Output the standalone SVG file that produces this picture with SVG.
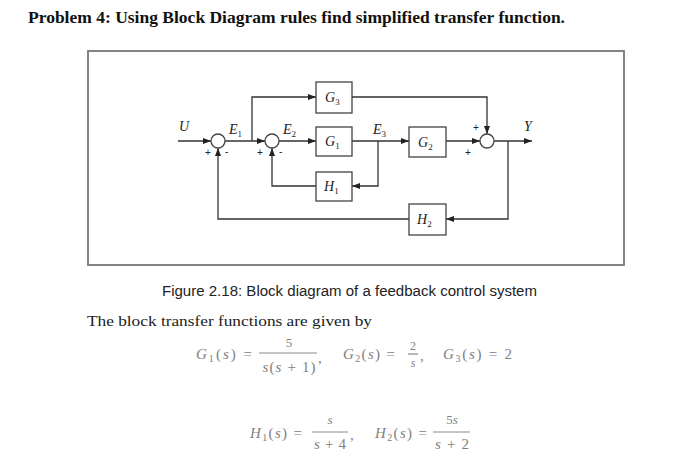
<svg xmlns="http://www.w3.org/2000/svg" width="700" height="474" viewBox="0 0 700 474">
<defs>
<marker id="arr" markerUnits="userSpaceOnUse" markerWidth="8" markerHeight="6" refX="8" refY="3" orient="auto">
<path d="M0,0 L8,3 L0,6 z" fill="#222"/>
</marker>
<style>
.ln{fill:none;stroke:#333;stroke-width:1.3}
.box{fill:#fff;stroke:#444;stroke-width:1.3}
.sum{fill:#fff;stroke:#444;stroke-width:1.3}
.lbl{font-family:"Liberation Serif",serif;font-style:italic;font-size:14px;fill:#222}
.sub{font-size:9px;font-style:normal}
.sg{font-family:"Liberation Sans",sans-serif;font-size:10px;fill:#222}
.bar{stroke:#8a8a8a;stroke-width:1.2}
</style>
</defs>
<rect width="700" height="474" fill="#fff"/>
<text x="28" y="23" font-family="Liberation Serif,serif" font-weight="bold" font-size="16" fill="#111" textLength="537" lengthAdjust="spacingAndGlyphs">Problem 4: Using Block Diagram rules find simplified transfer function.</text>
<rect x="88" y="51" width="536" height="214" fill="none" stroke="#777" stroke-width="1.8"/>
<g id="connectors">
<path class="ln" d="M178,141 H211" marker-end="url(#arr)"/>
<path class="ln" d="M225,141 H265" marker-end="url(#arr)"/>
<path class="ln" d="M252,141 V97 H316" marker-end="url(#arr)"/>
<path class="ln" d="M279,141 H316" marker-end="url(#arr)"/>
<path class="ln" d="M352,141 H409" marker-end="url(#arr)"/>
<path class="ln" d="M378,141 V186 H352" marker-end="url(#arr)"/>
<path class="ln" d="M316,186 H272 V148" marker-end="url(#arr)"/>
<path class="ln" d="M352,97 H487 V134" marker-end="url(#arr)"/>
<path class="ln" d="M446,141 H480" marker-end="url(#arr)"/>
<path class="ln" d="M494,141 H532" marker-end="url(#arr)"/>
<path class="ln" d="M508,141 V219 H446" marker-end="url(#arr)"/>
<path class="ln" d="M409,219 H218 V148" marker-end="url(#arr)"/>
</g>
<g id="sum1"><circle class="sum" cx="218" cy="141" r="7"/><text class="sg" x="205" y="156">+</text><text class="sg" x="225" y="155">-</text></g>
<g id="sum2"><circle class="sum" cx="272" cy="141" r="7"/><text class="sg" x="257" y="156">+</text><text class="sg" x="279" y="155">-</text></g>
<g id="sum3"><circle class="sum" cx="487" cy="141" r="7"/><text class="sg" x="473" y="131">+</text><text class="sg" x="465" y="156">+</text></g>
<g id="G3"><rect class="box" x="316" y="82" width="36" height="31"/><text class="lbl" x="325" y="102">G<tspan class="sub" dy="3">3</tspan></text></g>
<g id="G1"><rect class="box" x="316" y="127" width="36" height="29"/><text class="lbl" x="325" y="146">G<tspan class="sub" dy="3">1</tspan></text></g>
<g id="H1"><rect class="box" x="316" y="172" width="36" height="29"/><text class="lbl" x="324" y="191">H<tspan class="sub" dy="3">1</tspan></text></g>
<g id="G2"><rect class="box" x="409" y="127" width="37" height="30"/><text class="lbl" x="418" y="147">G<tspan class="sub" dy="3">2</tspan></text></g>
<g id="H2"><rect class="box" x="409" y="204" width="37" height="31"/><text class="lbl" x="417" y="224">H<tspan class="sub" dy="3">2</tspan></text></g>
<g id="labels">
<text class="lbl" x="179" y="131">U</text>
<text class="lbl" x="229" y="134">E<tspan class="sub" dy="3">1</tspan></text>
<text class="lbl" x="283" y="134">E<tspan class="sub" dy="3">2</tspan></text>
<text class="lbl" x="373" y="134">E<tspan class="sub" dy="3">3</tspan></text>
<text class="lbl" x="524" y="131">Y</text>
</g>
<text x="162" y="296" font-family="Liberation Sans,sans-serif" font-size="14" fill="#222" textLength="375" lengthAdjust="spacingAndGlyphs">Figure 2.18: Block diagram of a feedback control system</text>
<text x="87" y="326" font-family="Liberation Serif,serif" font-size="15" fill="#222" textLength="285" lengthAdjust="spacingAndGlyphs">The block transfer functions are given by</text>
<g id="equations" font-family="Liberation Serif, serif" font-size="15" fill="#808080">
<text x="196" y="359" textLength="56"><tspan font-style="italic">G</tspan><tspan font-size="10" dy="3">1</tspan><tspan dy="-3">(</tspan><tspan font-style="italic">s</tspan>) =</text>
<text x="289" y="347" text-anchor="middle" font-size="13">5</text>
<line class="bar" x1="259" y1="353" x2="317" y2="353"/>
<text x="289" y="372" text-anchor="middle" textLength="53"><tspan font-style="italic">s</tspan>(<tspan font-style="italic">s</tspan> + 1)</text>
<text x="318" y="363">,</text>
<text x="343" y="359" textLength="52"><tspan font-style="italic">G</tspan><tspan font-size="10" dy="3">2</tspan><tspan dy="-3">(</tspan><tspan font-style="italic">s</tspan>) =</text>
<text x="413" y="350" text-anchor="middle" font-size="12">2</text>
<line class="bar" x1="408" y1="354" x2="418" y2="354"/>
<text x="413" y="367" text-anchor="middle" font-size="12" font-style="italic">s</text>
<text x="420" y="361">,</text>
<text x="443" y="359" textLength="69"><tspan font-style="italic">G</tspan><tspan font-size="10" dy="3">3</tspan><tspan dy="-3">(</tspan><tspan font-style="italic">s</tspan>) = 2</text>
<text x="250" y="438" textLength="52"><tspan font-style="italic">H</tspan><tspan font-size="10" dy="3">1</tspan><tspan dy="-3">(</tspan><tspan font-style="italic">s</tspan>) =</text>
<text x="330" y="424" text-anchor="middle" font-size="13" font-style="italic">s</text>
<line class="bar" x1="312" y1="432" x2="348" y2="432"/>
<text x="330" y="449" text-anchor="middle" textLength="32"><tspan font-style="italic">s</tspan> + 4</text>
<text x="350" y="440">,</text>
<text x="375" y="438" textLength="52"><tspan font-style="italic">H</tspan><tspan font-size="10" dy="3">2</tspan><tspan dy="-3">(</tspan><tspan font-style="italic">s</tspan>) =</text>
<text x="452" y="424" text-anchor="middle" font-size="13">5<tspan font-style="italic">s</tspan></text>
<line class="bar" x1="433" y1="432" x2="470" y2="432"/>
<text x="452" y="449" text-anchor="middle" textLength="34"><tspan font-style="italic">s</tspan> + 2</text>
</g>
</svg>
